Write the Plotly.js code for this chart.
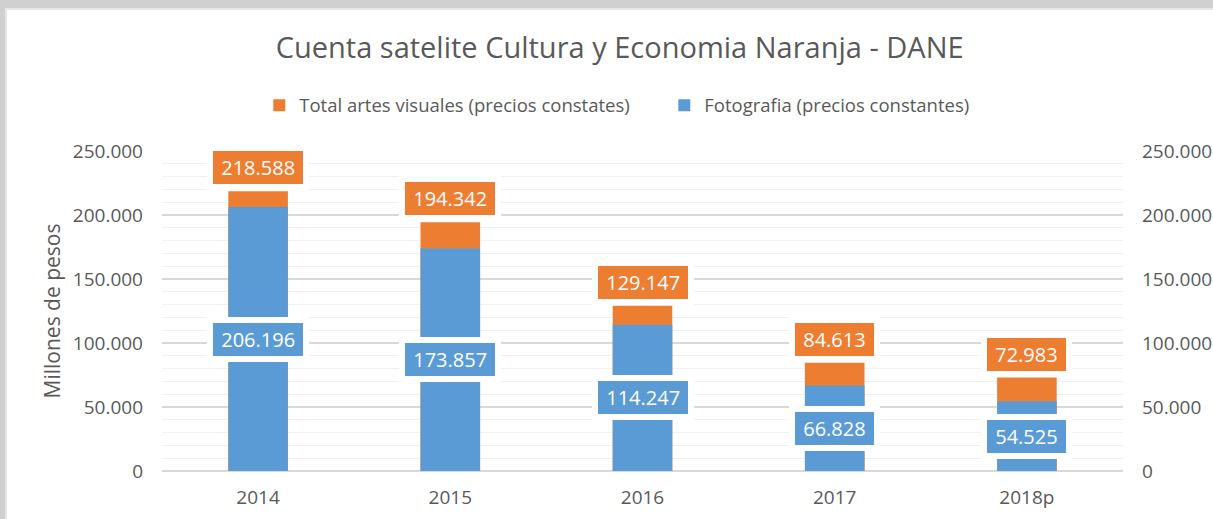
<!DOCTYPE html>
<html>
<head>
<meta charset="utf-8">
<script src="https://cdn.plot.ly/plotly-3.0.1.min.js"></script>
<style>
  html, body { margin: 0; padding: 0; background: #d0d0d0; width: 1213px; height: 519px; overflow: hidden; }
  #frame { position: absolute; left: 5px; top: 8px; width: 1208px; height: 511px; background: #e6e6e6; }
  #chart { position: absolute; left: 2px; top: 2px; width: 1206px; height: 509px; background: #ffffff; }
</style>
</head>
<body>
<div id="frame"><div id="chart"></div></div>
<script>
const categories = ["2014", "2015", "2016", "2017", "2018p"];
const totalArtesVisuales = [218588, 194342, 129147, 84613, 72983];
const fotografia = [206196, 173857, 114247, 66828, 54525];
const yTickValues = [0, 50000, 100000, 150000, 200000, 250000];
const seriesNames = ["Total artes visuales (precios constates)", "Fotografia (precios constantes)"];

const ORANGE = "#ED7D31";
const BLUE = "#5B9BD5";
const TEXT = "#595959";
const FONT = "Open Sans, Noto Sans, sans-serif";
const NB = "\u00A0";

function fmt(v) {
  return String(v).replace(/\B(?=(\d{3})+(?!\d))/g, ".");
}

const traces = [
  {
    type: "bar", name: seriesNames[0], x: categories, y: totalArtesVisuales,
    marker: { color: ORANGE }, width: 0.31, hoverinfo: "x+y"
  },
  {
    type: "bar", name: seriesNames[1], x: categories, y: fotografia,
    marker: { color: BLUE }, width: 0.31, hoverinfo: "x+y"
  },
  {
    type: "scatter", mode: "markers", x: categories, y: fotografia, yaxis: "y2",
    marker: { opacity: 0 }, showlegend: false, hoverinfo: "skip"
  }
];

const annotations = [];
categories.forEach((c, i) => {
  annotations.push({
    x: i, y: totalArtesVisuales[i], xref: "x", yref: "y",
    text: NB + fmt(totalArtesVisuales[i]) + NB, showarrow: false,
    yanchor: "bottom", yshift: 1,
    font: { family: FONT, size: 20, color: "#ffffff" },
    bgcolor: ORANGE, bordercolor: "#ffffff", borderwidth: 6, borderpad: 3
  });
  annotations.push({
    x: i, y: fotografia[i] / 2, xref: "x", yref: "y",
    text: NB + fmt(fotografia[i]) + NB, showarrow: false,
    yanchor: "middle",
    font: { family: FONT, size: 20, color: "#ffffff" },
    bgcolor: BLUE, bordercolor: "#ffffff", borderwidth: 6, borderpad: 3
  });
});

const yaxisCommon = {
  range: [0, 250000],
  tickvals: yTickValues,
  ticktext: yTickValues.map(fmt),
  tickfont: { family: FONT, size: 19, color: TEXT },
  ticks: "",
  ticklabelstandoff: 18,
  fixedrange: true
};

const layout = {
  width: 1206, height: 509,
  margin: { l: 155, r: 90, t: 141, b: 48 },
  paper_bgcolor: "#ffffff",
  plot_bgcolor: "#ffffff",
  barmode: "overlay",
  font: { family: FONT, color: TEXT },
  title: {
    text: "Cuenta satelite Cultura y Economia Naranja - DANE",
    font: { family: FONT, size: 29, color: TEXT },
    x: 0.508, xanchor: "center", xref: "container",
    y: 0.925, yanchor: "middle", yref: "container"
  },
  showlegend: true,
  legend: {
    orientation: "h",
    xref: "container", yref: "container",
    x: 0.2092, xanchor: "left",
    y: 0.812, yanchor: "middle",
    font: { family: FONT, size: 18.5, color: TEXT },
    itemwidth: 30,
    entrywidth: 360,
    traceorder: "normal",
    bgcolor: "rgba(0,0,0,0)"
  },
  xaxis: {
    type: "category",
    range: [-0.5, categories.length - 0.5],
    autorange: false,
    tickfont: { family: FONT, size: 19, color: TEXT },
    ticks: "", ticklabelstandoff: 13,
    showgrid: false, showline: false, zeroline: false,
    fixedrange: true
  },
  yaxis: Object.assign({}, yaxisCommon, {
    side: "left",
    showgrid: true, gridcolor: "#d9d9d9", gridwidth: 1.3,
    zeroline: true, zerolinecolor: "#d9d9d9", zerolinewidth: 1.3,
    minor: { dtick: 10000, showgrid: true, gridcolor: "#f0f0f0", gridwidth: 1.3, ticks: "" },
    title: { text: "Millones de pesos", font: { family: FONT, size: 21, color: TEXT }, standoff: 6 }
  }),
  yaxis2: Object.assign({}, yaxisCommon, {
    side: "right", overlaying: "y",
    showgrid: false, zeroline: false, showline: false
  }),
  annotations: annotations
};

Plotly.newPlot("chart", traces, layout, { displayModeBar: false, staticPlot: true });
</script>
</body>
</html>
